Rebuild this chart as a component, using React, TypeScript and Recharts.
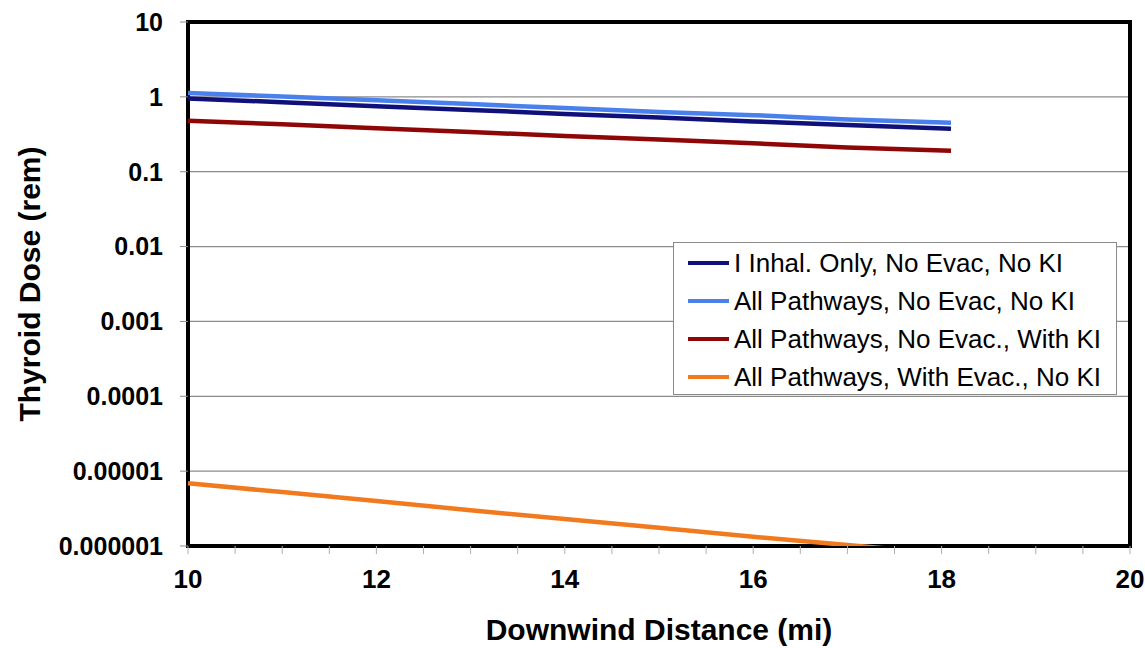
import { CartesianGrid, Line, LineChart, ReferenceArea, XAxis, YAxis } from 'recharts';

const FONT = "Arial, 'Liberation Sans', sans-serif";

// downwind distance (mi)
const distance = [10, 11, 12, 13, 14, 15, 16, 17, 18.1];

// thyroid dose (rem)
const inhalOnly = [0.95, 0.85, 0.75, 0.67, 0.59, 0.53, 0.47, 0.42, 0.375];
const allNoEvac = [1.13, 1.01, 0.9, 0.8, 0.71, 0.63, 0.57, 0.5, 0.45];
const allNoEvacKI = [0.48, 0.43, 0.38, 0.34, 0.3, 0.27, 0.24, 0.21, 0.19];
const allWithEvac = [6.9e-6, 5.25e-6, 4.0e-6, 3.0e-6, 2.3e-6, 1.75e-6, 1.33e-6, 1.03e-6, 7.8e-7];

const yTicks = [1e-6, 1e-5, 1e-4, 1e-3, 1e-2, 1e-1, 1, 10];
const yTickLabels = ['0.000001', '0.00001', '0.0001', '0.001', '0.01', '0.1', '1', '10'];
const xTicks = [10, 10.5, 11, 11.5, 12, 12.5, 13, 13.5, 14, 14.5, 15, 15.5, 16, 16.5, 17, 17.5, 18, 18.5, 19, 19.5, 20];
const xTickLabels = ['10', '12', '14', '16', '18', '20'];

const series = [
  { key: 'inhal', name: 'I Inhal. Only, No Evac, No KI', color: '#10107a', values: inhalOnly },
  { key: 'all', name: 'All Pathways, No Evac, No KI', color: '#4a80ec', values: allNoEvac },
  { key: 'allKI', name: 'All Pathways, No Evac., With KI', color: '#8e0606', values: allNoEvacKI },
  { key: 'evac', name: 'All Pathways, With Evac., No KI', color: '#f27a1e', values: allWithEvac },
];

const data = distance.map((x, i) => {
  const row: Record<string, number> = { x };
  for (const s of series) row[s.key] = s.values[i];
  return row;
});

function formatY(v: number) {
  const i = yTicks.findIndex((t) => Math.abs(Math.log10(t) - Math.log10(v)) < 1e-6);
  return i >= 0 ? yTickLabels[i] : '';
}

function formatX(v: number) {
  const s = String(v);
  return xTickLabels.includes(s) ? s : '';
}

function YTitle({ viewBox }: any) {
  const cx = 29;
  const cy = viewBox.y + viewBox.height / 2;
  return (
    <text
      x={cx}
      y={cy}
      transform={`rotate(-90, ${cx}, ${cy})`}
      textAnchor="middle"
      dominantBaseline="central"
      fontFamily={FONT}
      fontWeight="bold"
      fontSize={30}
      fill="#000"
    >
      Thyroid Dose (rem)
    </text>
  );
}

function LegendBox() {
  return (
    <div
      style={{
        position: 'absolute',
        left: 673,
        top: 242,
        width: 444,
        height: 153,
        boxSizing: 'border-box',
        background: '#fff',
        border: '1px solid #8a8a8a',
        padding: '1px 0 0 14px',
        fontFamily: FONT,
        fontSize: 26,
        color: '#000',
      }}
    >
      {series.map((s) => (
        <div key={s.key} style={{ display: 'flex', alignItems: 'center', height: 38 }}>
          <span style={{ display: 'inline-block', width: 41, height: 4, background: s.color, marginRight: 5 }} />
          <span style={{ whiteSpace: 'nowrap' }}>{s.name}</span>
        </div>
      ))}
    </div>
  );
}

export default function App() {
  return (
    <div style={{ position: 'absolute', left: 0, top: 0, width: 1145, height: 648, background: '#fff' }}>
      <LineChart width={1145} height={648} data={data} margin={{ top: 22, right: 15, bottom: 0, left: 0 }}>
        <CartesianGrid vertical={false} stroke="#8c8c8c" strokeWidth={1.2} />
        <XAxis
          dataKey="x"
          type="number"
          domain={[10, 20]}
          ticks={xTicks}
          tickFormatter={formatX}
          interval={0}
          height={102}
          axisLine={false}
          tickLine={{ stroke: '#b0b0b0' }}
          tickSize={8}
          tickMargin={16}
          tick={{ fill: '#000', fontFamily: FONT, fontWeight: 'bold', fontSize: 26 }}
          label={{
            value: 'Downwind Distance (mi)',
            position: 'insideBottom',
            offset: 8,
            fill: '#000',
            fontFamily: FONT,
            fontWeight: 'bold',
            fontSize: 30,
          }}
        />
        <YAxis
          scale="log"
          type="number"
          domain={[1e-6, 10]}
          allowDataOverflow
          ticks={yTicks}
          tickFormatter={formatY}
          interval={0}
          width={188}
          axisLine={false}
          tickLine={{ stroke: '#8c8c8c' }}
          tickSize={8}
          tickMargin={17}
          tick={{ fill: '#000', fontFamily: FONT, fontWeight: 'bold', fontSize: 25 }}
          label={<YTitle />}
        />
        <ReferenceArea x1={10} x2={20} y1={1e-6} y2={10} fill="none" stroke="#000" strokeWidth={4} ifOverflow="visible" />
        {series.map((s) => (
          <Line
            key={s.key}
            dataKey={s.key}
            name={s.name}
            stroke={s.color}
            strokeWidth={4.5}
            dot={false}
            activeDot={false}
            type="linear"
            isAnimationActive={false}
          />
        ))}
      </LineChart>
      <LegendBox />
    </div>
  );
}
